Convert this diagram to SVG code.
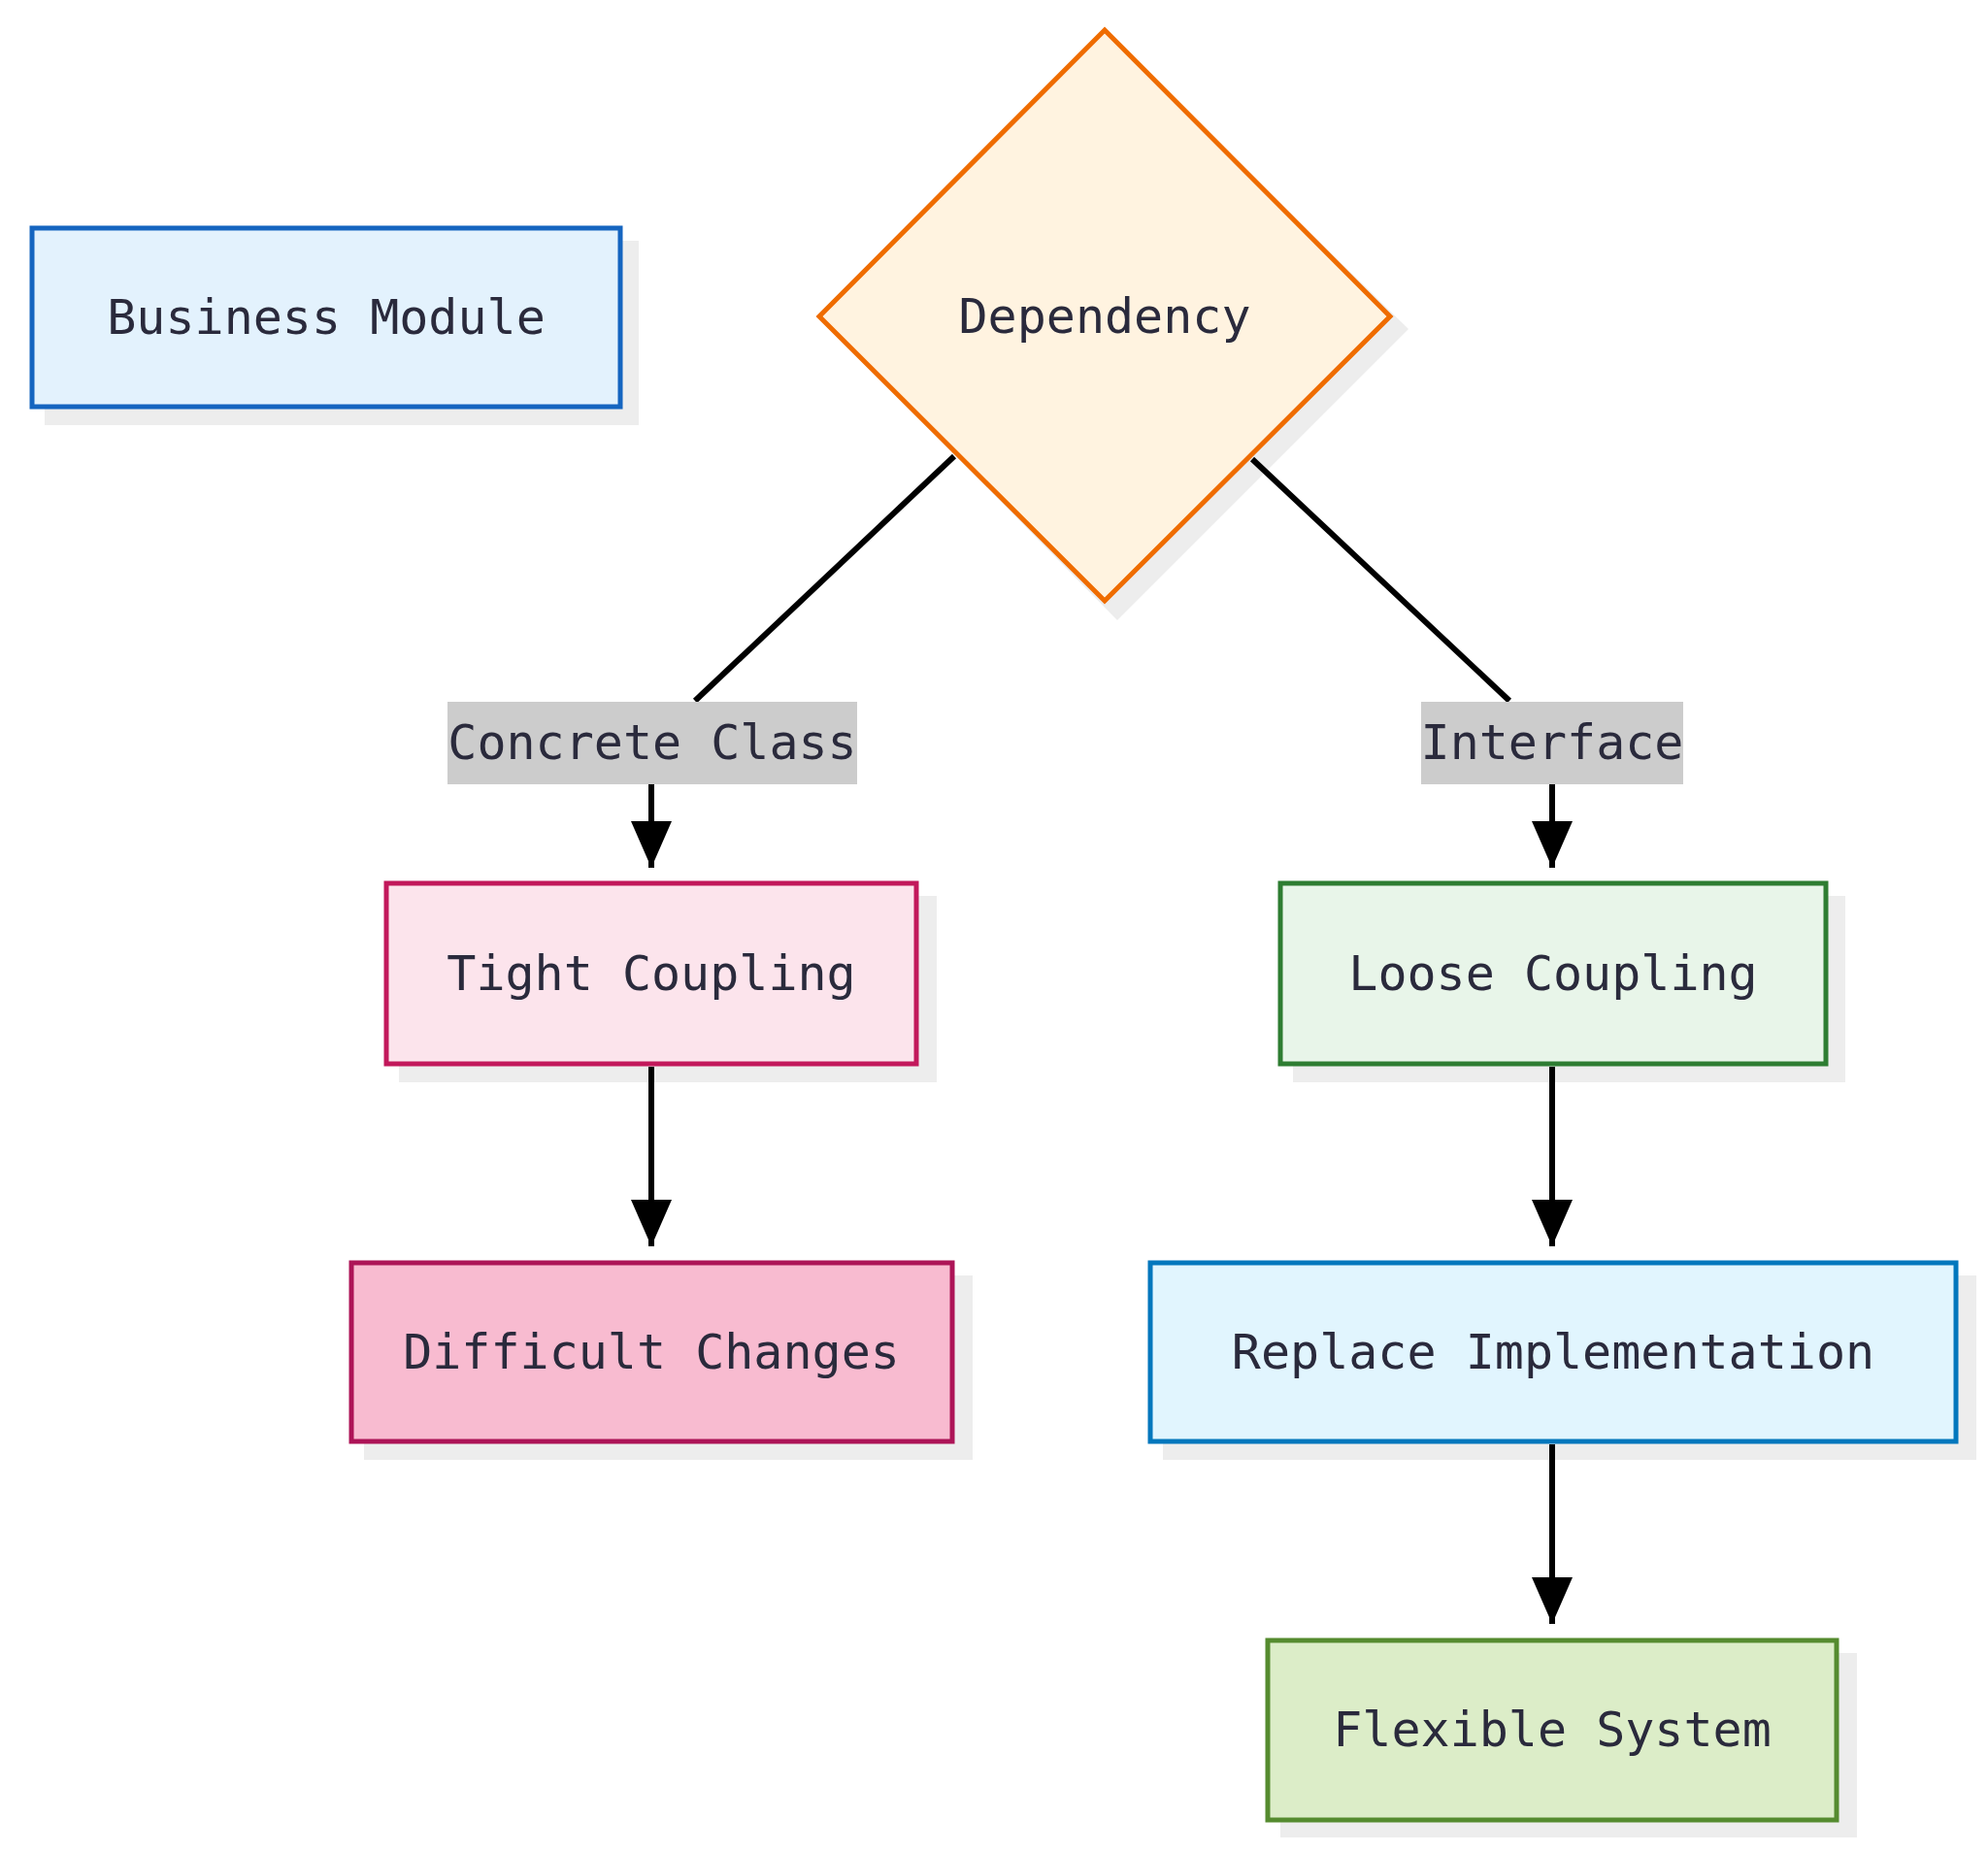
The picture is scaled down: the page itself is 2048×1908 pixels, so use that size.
<svg xmlns="http://www.w3.org/2000/svg" width="2048" height="1908" viewBox="0 0 2048 1908">
<style>
text{font-family:"DejaVu Sans Mono","Liberation Mono",monospace;font-size:50px;fill:#2a2a3c;text-anchor:middle;dominant-baseline:central}
.sh{fill:#e6e6e6;opacity:.7}
.n{stroke-width:5}
.e{stroke:#000;stroke-width:6;fill:none}
</style>
<defs><marker id="a" markerWidth="48" markerHeight="42" refX="48" refY="21" orient="auto" markerUnits="userSpaceOnUse"><path d="M0,0L48,21L0,42z" fill="#000"/></marker></defs>
<rect width="2048" height="1908" fill="#fff"/>
<g id="business"><rect class="sh" x="46" y="248" width="612" height="190"/><rect class="n" x="33" y="235" width="606" height="184" fill="#e3f2fd" stroke="#1565c0"/><text x="336" y="327">Business Module</text></g>
<g id="dependency"><path class="sh" d="M1151,45L1451,339L1151,639L857,339z"/><path class="n" d="M1138,31L1432,326L1138,619L844,326z" fill="#fff3e0" stroke="#ef6c00"/><text x="1138" y="326">Dependency</text></g>
<g id="tight"><rect class="sh" x="411" y="923" width="554" height="192"/><rect class="n" x="398" y="910" width="546" height="186" fill="#fce4ec" stroke="#c2185b"/><text x="671" y="1003">Tight Coupling</text></g>
<g id="difficult"><rect class="sh" x="375" y="1314" width="627" height="190"/><rect class="n" x="362" y="1301" width="619" height="184" fill="#f8bbd0" stroke="#ad1457"/><text x="671" y="1393">Difficult Changes</text></g>
<g id="loose"><rect class="sh" x="1332" y="923" width="569" height="192"/><rect class="n" x="1319" y="910" width="562" height="186" fill="#e8f5e9" stroke="#2e7d32"/><text x="1600" y="1003">Loose Coupling</text></g>
<g id="replace"><rect class="sh" x="1198" y="1314" width="838" height="190"/><rect class="n" x="1185" y="1301" width="830" height="184" fill="#e1f5fe" stroke="#0277bd"/><text x="1600" y="1393">Replace Implementation</text></g>
<g id="flexible"><rect class="sh" x="1319" y="1703" width="594" height="190"/><rect class="n" x="1306" y="1690" width="586" height="185" fill="#dcedc8" stroke="#558b2f"/><text x="1599" y="1782">Flexible System</text></g>
<g id="connectors">
<path class="e" d="M983,470L716,722"/>
<path class="e" d="M671,808V894" marker-end="url(#a)"/>
<path class="e" d="M1290,473L1555,722"/>
<path class="e" d="M1599,808V894" marker-end="url(#a)"/>
<path class="e" d="M671,1099V1284" marker-end="url(#a)"/>
<path class="e" d="M1599,1099V1284" marker-end="url(#a)"/>
<path class="e" d="M1599,1488V1673" marker-end="url(#a)"/>
<rect x="461" y="723" width="422" height="85" fill="#cccccc"/><text x="672" y="765">Concrete Class</text>
<rect x="1464" y="723" width="270" height="85" fill="#cccccc"/><text x="1599" y="765">Interface</text>
</g>
</svg>
